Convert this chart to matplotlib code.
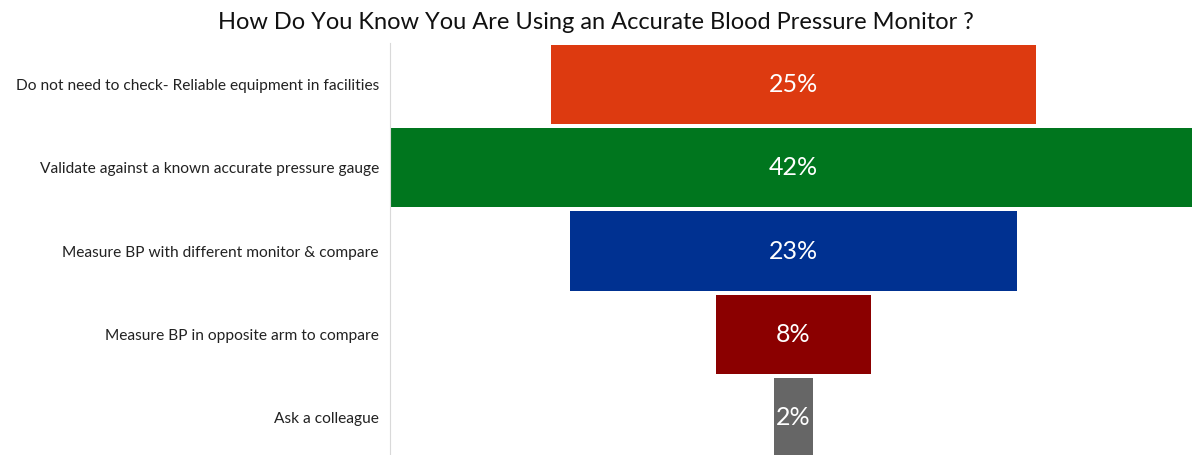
import matplotlib
matplotlib.use("Agg")
import matplotlib.pyplot as plt

categories = [
    "Do not need to check- Reliable equipment in facilities",
    "Validate against a known accurate pressure gauge",
    "Measure BP with different monitor & compare",
    "Measure BP in opposite arm to compare",
    "Ask a colleague",
]
values = [25, 42, 23, 8, 2]
colors = ["#DD3A10", "#00761E", "#003191", "#8B0000", "#666666"]

plt.rcParams["font.family"] = ["Lato", "DejaVu Sans"]

fig = plt.figure(figsize=(11.92, 4.55), dpi=100)
ax = fig.add_axes([390 / 1192, -4.6 / 455, 802 / 1192, 417 / 455])

ys = list(range(len(values)))
lefts = [-v / 2 for v in values]
ax.barh(ys, values, left=lefts, height=0.95, color=colors, edgecolor="none")

for y, v in zip(ys, values):
    ax.text(0, y, f"{v}%", ha="center", va="center", color="white", fontsize=18)

ax.set_yticks(ys)
ax.set_yticklabels(categories, fontsize=11.2, color="#222222")
ax.set_ylim(len(values) - 0.5, -0.5)
ax.set_xlim(-20.8, 20.54)
ax.set_xticks([])
ax.tick_params(axis="y", length=0, pad=8)

for s in ["top", "right", "bottom"]:
    ax.spines[s].set_visible(False)
ax.spines["left"].set_color("#D9D9D9")

fig.text(0.5, 0.95, "How Do You Know You Are Using an Accurate Blood Pressure Monitor ?",
         ha="center", va="center", fontsize=17, color="#111111")

fig.savefig("out.png", dpi=100)
